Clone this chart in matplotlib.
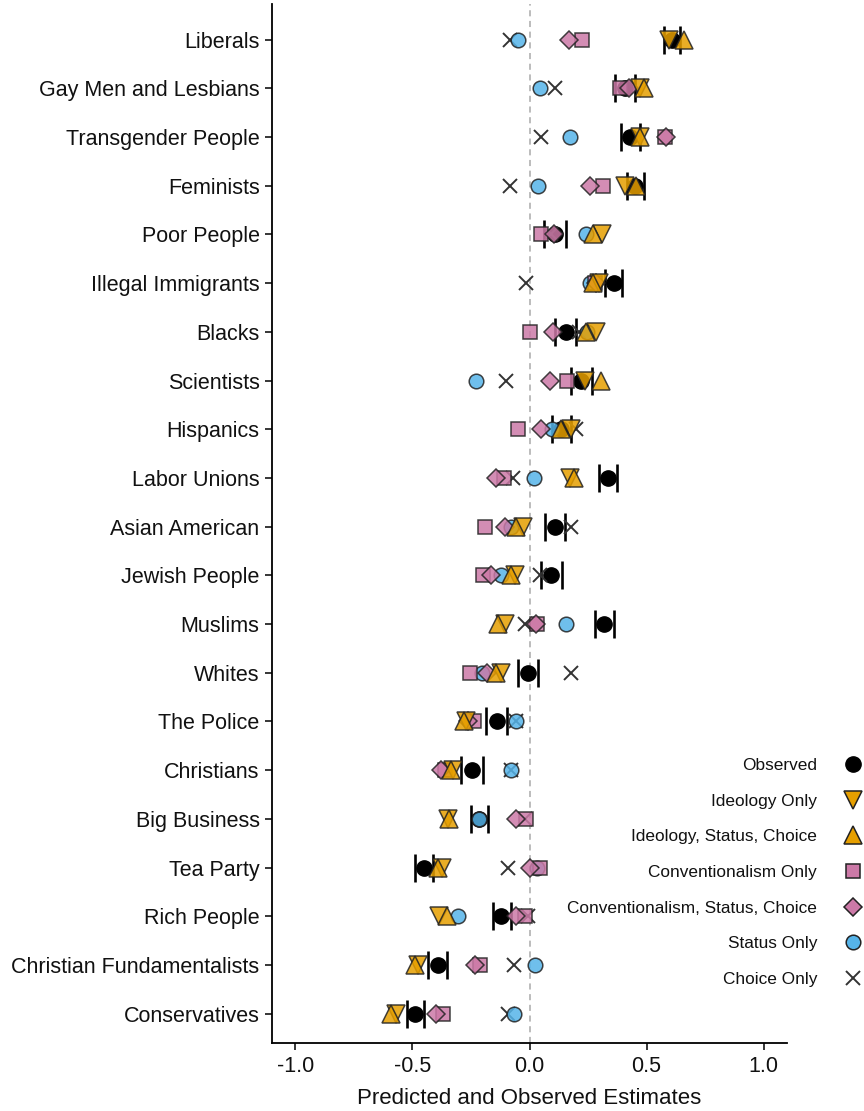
import numpy as np
import matplotlib
matplotlib.use("Agg")
import matplotlib.pyplot as plt
from matplotlib.lines import Line2D

plt.rcParams['font.family'] = ['Liberation Sans', 'DejaVu Sans']

# groups, top to bottom
groups = ["Liberals", "Gay Men and Lesbians", "Transgender People", "Feminists",
          "Poor People", "Illegal Immigrants", "Blacks", "Scientists", "Hispanics",
          "Labor Unions", "Asian American", "Jewish People", "Muslims", "Whites",
          "The Police", "Christians", "Big Business", "Tea Party", "Rich People",
          "Christian Fundamentalists", "Conservatives"]

observed = [0.61, 0.41, 0.43, 0.45, 0.11, 0.36, 0.155, 0.22, 0.135, 0.335, 0.107,
            0.093, 0.32, -0.007, -0.14, -0.245, -0.215, -0.45, -0.12, -0.392, -0.49]
obs_lo = [0.573, 0.366, 0.389, 0.416, 0.064, 0.323, 0.11, 0.178, 0.094, 0.296, 0.067,
          0.05, 0.281, -0.05, -0.185, -0.292, -0.252, -0.487, -0.157, -0.432, -0.524]
obs_hi = [0.645, 0.451, 0.47, 0.491, 0.154, 0.394, 0.197, 0.266, 0.179, 0.373, 0.15,
          0.138, 0.36, 0.036, -0.097, -0.2, -0.178, -0.413, -0.081, -0.353, -0.449]

ideology_only = [0.595, 0.47, 0.474, 0.406, 0.31, 0.299, 0.285, 0.235, 0.178, 0.171, -0.026,
                 -0.064, -0.103, -0.121, -0.271, -0.325, -0.349, -0.373, -0.385, -0.477, -0.57]
ideology_sc = [0.66, 0.49, 0.47, 0.456, 0.273, 0.27, 0.242, 0.306, 0.135, 0.192, -0.057,
               -0.078, -0.135, -0.142, -0.278, -0.335, -0.342, -0.392, -0.353, -0.491, -0.59]
conv_only = [0.225, 0.385, 0.58, 0.316, 0.05, 0.28, 0.003, 0.159, -0.05, -0.111, -0.19,
             -0.2, 0.03, -0.256, -0.235, -0.36, -0.014, 0.043, -0.021, -0.211, -0.37]
conv_sc = [0.17, 0.427, 0.581, 0.259, 0.103, 0.285, 0.1, 0.088, 0.05, -0.142, -0.103,
           -0.164, 0.028, -0.182, -0.262, -0.377, -0.057, 0.0, -0.057, -0.231, -0.399]
status_only = [-0.05, 0.043, 0.171, 0.038, 0.242, 0.259, 0.245, -0.228, 0.097, 0.021, -0.078,
               -0.121, 0.157, -0.202, -0.057, -0.078, -0.215, 0.03, -0.306, 0.024, -0.068]
choice_only = [-0.085, 0.11, 0.05, -0.085, 0.09, -0.013, 0.21, -0.1, 0.2, -0.071, 0.178,
               0.043, -0.021, 0.178, -0.058, -0.078, -0.02, -0.09, -0.007, -0.068, -0.093]

orange = "#E69F00"
pink = "#CC79A7"
blue = "#56B4E9"
edge = "#222222"

fig = plt.figure(figsize=(8.64, 11.11), dpi=100)
ax = fig.add_axes([272/864, 1 - 1043/1111, (787 - 272)/864, 1043/1111 - 0.004])

y = np.arange(len(groups))[::-1]

ax.axvline(0, color="#aaaaaa", ls=(0, (4, 3)), lw=1.1, zorder=0)

# observed with interval ends
ax.plot(observed, y, 'o', ms=11, color="black", mec="black", zorder=2)
ax.plot(obs_lo, y, '|', ms=20, mew=1.9, color="black", zorder=2)
ax.plot(obs_hi, y, '|', ms=20, mew=1.9, color="black", zorder=2)

ax.plot(choice_only, y, 'x', ms=10, mew=1.4, color="#333333", zorder=3)
ax.plot(status_only, y, 'o', ms=10.5, mfc=blue, mec=edge, mew=1.1, alpha=0.85, zorder=4)
ax.plot(conv_only, y, 's', ms=9.5, mfc=pink, mec=edge, mew=1.1, alpha=0.85, zorder=5)
ax.plot(conv_sc, y, 'D', ms=8.7, mfc=pink, mec=edge, mew=1.1, alpha=0.85, zorder=6)
ax.plot(ideology_only, y, 'v', ms=12.5, mfc=orange, mec=edge, mew=1.1, alpha=0.85, zorder=7)
ax.plot(ideology_sc, y, '^', ms=12.5, mfc=orange, mec=edge, mew=1.1, alpha=0.85, zorder=8)

ax.set_xlim(-1.1, 1.1)
ax.set_ylim(-0.6, len(groups) - 1 + 0.72)
ax.set_yticks(y)
ax.set_yticklabels(groups, fontsize=15.5, color="#111111")
ax.set_xticks([-1.0, -0.5, 0.0, 0.5, 1.0])
ax.set_xticklabels(["-1.0", "-0.5", "0.0", "0.5", "1.0"], fontsize=15.5, color="#111111")
ax.set_xlabel("Predicted and Observed Estimates", fontsize=16, color="#111111", labelpad=8)
ax.tick_params(axis='both', length=5, width=1.1, color="black", pad=4)

for s in ["top", "right"]:
    ax.spines[s].set_visible(False)
for s in ["left", "bottom"]:
    ax.spines[s].set_linewidth(1.3)
    ax.spines[s].set_color("black")

handles = [
    Line2D([], [], ls='none', marker='o', ms=11, color='black'),
    Line2D([], [], ls='none', marker='v', ms=12.5, mfc=orange, mec=edge, mew=1.1),
    Line2D([], [], ls='none', marker='^', ms=12.5, mfc=orange, mec=edge, mew=1.1),
    Line2D([], [], ls='none', marker='s', ms=9.5, mfc=pink, mec=edge, mew=1.1),
    Line2D([], [], ls='none', marker='D', ms=8.7, mfc=pink, mec=edge, mew=1.1),
    Line2D([], [], ls='none', marker='o', ms=10.5, mfc=blue, mec=edge, mew=1.1),
    Line2D([], [], ls='none', marker='x', ms=10, mew=1.4, color='#333333'),
]
labels = ["Observed", "Ideology Only", "Ideology, Status, Choice", "Conventionalism Only",
          "Conventionalism, Status, Choice", "Status Only", "Choice Only"]
leg = fig.legend(handles, labels, loc='center right', bbox_to_anchor=(867/864, 1 - 872.5/1111),
                 bbox_transform=fig.transFigure, frameon=False, markerfirst=False,
                 fontsize=12.4, labelspacing=1.2, handlelength=1.6, handletextpad=1.3,
                 borderpad=0, borderaxespad=0)
for t in leg.get_texts():
    t.set_color("#111111")

fig.savefig("out.png", dpi=100)
